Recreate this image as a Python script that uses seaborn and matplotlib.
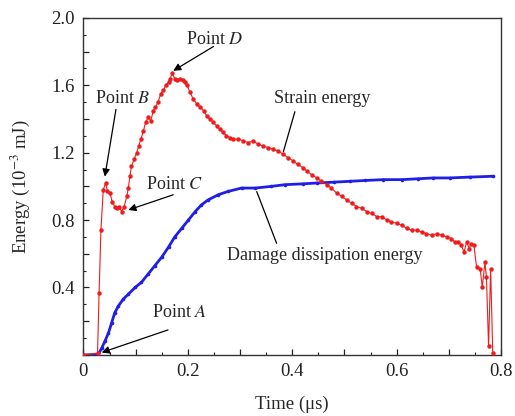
import matplotlib
matplotlib.use("Agg")
import matplotlib.pyplot as plt
import seaborn as sns
import pandas as pd
from matplotlib.ticker import MultipleLocator, FuncFormatter

# ---- data ----
strain_t = [
    0.0, 0.027, 0.030, 0.0335, 0.038, 0.0425, 0.046, 0.051, 0.055, 0.060,
    0.065, 0.069, 0.073, 0.078, 0.083, 0.086, 0.089, 0.092, 0.097, 0.102,
    0.106, 0.110, 0.115, 0.119, 0.124, 0.129, 0.134, 0.138, 0.143, 0.148,
    0.153, 0.158, 0.163, 0.166, 0.170, 0.175, 0.180, 0.185, 0.190, 0.194,
    0.198, 0.204, 0.210, 0.217, 0.223, 0.230, 0.236, 0.242, 0.249, 0.255,
    0.261, 0.268, 0.274, 0.281, 0.287, 0.297, 0.306, 0.316, 0.325, 0.335,
    0.344, 0.354, 0.364, 0.373, 0.383, 0.392, 0.402, 0.411, 0.421, 0.428,
    0.437, 0.447, 0.456, 0.466, 0.475, 0.485, 0.495, 0.504, 0.514, 0.523,
    0.533, 0.543, 0.552, 0.562, 0.571, 0.581, 0.590, 0.600, 0.610, 0.619,
    0.629, 0.638, 0.648, 0.657, 0.667, 0.677, 0.686, 0.696, 0.705, 0.711,
    0.718, 0.724, 0.729, 0.734, 0.739, 0.742, 0.748, 0.753, 0.760, 0.764,
    0.769, 0.772, 0.776, 0.780, 0.784,
]
strain_e = [
    0.0, 0.01, 0.37, 0.74, 0.98, 1.02, 0.97, 0.96, 0.91, 0.88,
    0.87, 0.88, 0.85, 0.88, 0.94, 0.99, 1.06, 1.12, 1.16, 1.20,
    1.24, 1.28, 1.33, 1.38, 1.41, 1.39, 1.45, 1.47, 1.50, 1.55,
    1.57, 1.60, 1.62, 1.64, 1.67, 1.64, 1.63, 1.64, 1.63, 1.62,
    1.60, 1.56, 1.52, 1.49, 1.47, 1.45, 1.42, 1.40, 1.38, 1.36,
    1.34, 1.32, 1.30, 1.29, 1.28, 1.28, 1.27, 1.26, 1.27, 1.25,
    1.24, 1.23, 1.22, 1.21, 1.19, 1.17, 1.15, 1.13, 1.11, 1.09,
    1.07, 1.05, 1.03, 1.01, 0.99, 0.96, 0.94, 0.92, 0.90, 0.88,
    0.87, 0.85, 0.84, 0.82, 0.82, 0.80, 0.79, 0.78, 0.77, 0.75,
    0.74, 0.74, 0.73, 0.72, 0.71, 0.72, 0.71, 0.70, 0.69, 0.67,
    0.67, 0.65, 0.61, 0.67, 0.63, 0.66, 0.65, 0.52, 0.51, 0.40,
    0.55, 0.46, 0.05, 0.51, 0.01,
]

damage_t = [
    0.0, 0.028, 0.035, 0.041, 0.048, 0.054, 0.060, 0.067, 0.076, 0.086,
    0.099, 0.111, 0.124, 0.137, 0.150, 0.163, 0.175, 0.188, 0.201, 0.214,
    0.226, 0.239, 0.258, 0.277, 0.303, 0.329, 0.360, 0.386, 0.420, 0.447,
    0.480, 0.510, 0.540, 0.574, 0.610, 0.640, 0.670, 0.702, 0.740, 0.785,
]
damage_e = [
    0.0, 0.0, 0.04, 0.08, 0.13, 0.19, 0.25, 0.29, 0.33, 0.36,
    0.40, 0.43, 0.48, 0.53, 0.58, 0.64, 0.70, 0.75, 0.80, 0.85,
    0.89, 0.92, 0.95, 0.97, 0.99, 0.99, 1.00, 1.01, 1.015, 1.02,
    1.025, 1.03, 1.035, 1.04, 1.04, 1.045, 1.05, 1.05, 1.055, 1.06,
]

x_ticklabels = ["0", "0.2", "0.4", "0.6", "0.8"]
y_ticklabels = ["0.4", "0.8", "1.2", "1.6", "2.0"]

# ---- style ----
sns.set_style("ticks")
plt.rcParams["font.family"] = ["Liberation Serif", "DejaVu Serif"]
plt.rcParams["mathtext.fontset"] = "stix"

fig = plt.figure(figsize=(5.15, 4.16), dpi=100)
ax = fig.add_axes([0.162, 0.147, 0.811, 0.810])

df_s = pd.DataFrame({"t": strain_t, "e": strain_e})
df_d = pd.DataFrame({"t": damage_t, "e": damage_e})

sns.lineplot(data=df_d, x="t", y="e", ax=ax, color="#1f1fe6", lw=2.0,
             marker="o", markersize=2.6, markeredgewidth=0, sort=False,
             estimator=None, zorder=3)
sns.lineplot(data=df_s, x="t", y="e", ax=ax, color="#ee1c1c", lw=0.8,
             marker="o", markersize=3.2, markeredgewidth=0, sort=False,
             estimator=None, zorder=4)

ax.set_xlim(0, 0.8)
ax.set_ylim(0, 2.0)


def xfmt(v, p):
    k = round(v / 0.2)
    if abs(v / 0.2 - k) < 1e-6 and 0 <= k < len(x_ticklabels):
        return x_ticklabels[k]
    return ""


def yfmt(v, p):
    k = round(v / 0.4)
    if abs(v / 0.4 - k) < 1e-6 and 1 <= k <= len(y_ticklabels):
        return y_ticklabels[k - 1]
    return ""


ax.xaxis.set_major_locator(MultipleLocator(0.1))
ax.xaxis.set_minor_locator(MultipleLocator(0.05))
ax.xaxis.set_major_formatter(FuncFormatter(xfmt))
ax.yaxis.set_major_locator(MultipleLocator(0.2))
ax.yaxis.set_minor_locator(MultipleLocator(0.1))
ax.yaxis.set_major_formatter(FuncFormatter(yfmt))

ax.tick_params(which="both", direction="in", top=False, right=False,
               labelsize=13.5, colors="#222222")
ax.tick_params(which="major", length=4.5, width=0.9, pad=6)
ax.tick_params(which="minor", length=2.5, width=0.8)
for sp in ax.spines.values():
    sp.set_visible(True)
    sp.set_color("#333333")
    sp.set_linewidth(1.0)

ax.set_xlabel("Time (μs)", fontsize=13.5, labelpad=11)
ax.set_ylabel(r"Energy (10$^{-3}$ mJ)", fontsize=13.5, labelpad=14)

fs = 13
arrow = dict(arrowstyle="-|>", color="black", lw=0.9, mutation_scale=11,
             shrinkA=0, shrinkB=0)
line = dict(arrowstyle="-", color="black", lw=0.9, shrinkA=0, shrinkB=0)

ax.text(0.252, 1.87, r"Point $D$", fontsize=fs, ha="center", va="center")
ax.annotate("", xy=(0.172, 1.686), xytext=(0.249, 1.83), arrowprops=arrow)

ax.text(0.0757, 1.52, r"Point $B$", fontsize=fs, ha="center", va="center")
ax.annotate("", xy=(0.041, 1.058), xytext=(0.0623, 1.457), arrowprops=arrow)

ax.text(0.175, 1.01, r"Point $C$", fontsize=fs, ha="center", va="center")
ax.annotate("", xy=(0.086, 0.86), xytext=(0.172, 0.95), arrowprops=arrow)

ax.text(0.183, 0.25, r"Point $A$", fontsize=fs, ha="center", va="center")
ax.annotate("", xy=(0.035, 0.014), xytext=(0.162, 0.148), arrowprops=arrow)

ax.text(0.458, 1.52, "Strain energy", fontsize=fs, ha="center", va="center")
ax.annotate("", xy=(0.383, 1.206), xytext=(0.405, 1.443), arrowprops=line)

ax.text(0.463, 0.59, "Damage dissipation energy", fontsize=fs,
        ha="center", va="center")
ax.annotate("", xy=(0.332, 0.969), xytext=(0.370, 0.662), arrowprops=line)

fig.savefig("out.png", dpi=100)
